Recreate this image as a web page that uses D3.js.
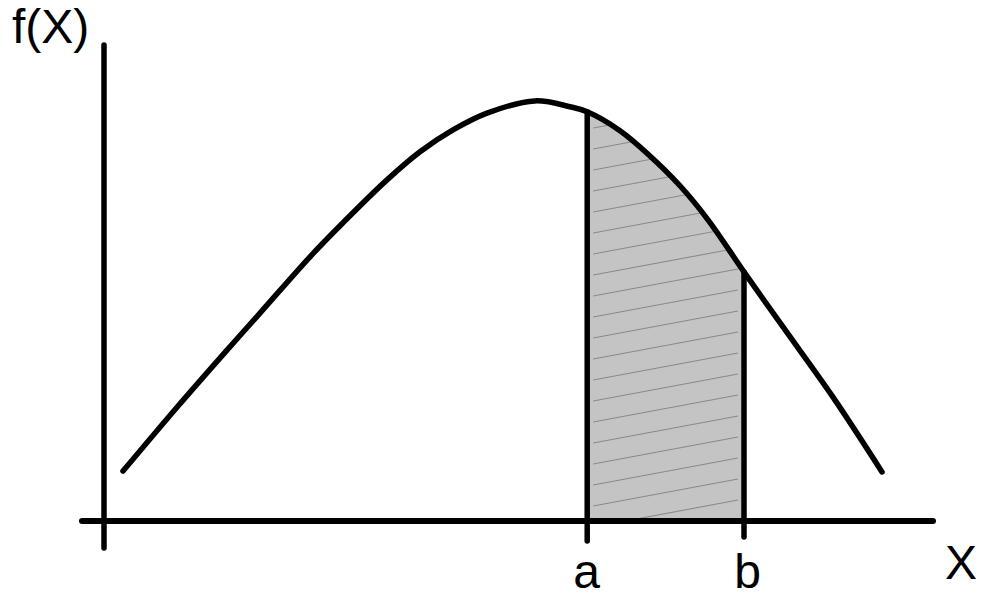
<!DOCTYPE html>
<html>
<head>
<meta charset="utf-8">
<script src="https://cdn.jsdelivr.net/npm/d3@7"></script>
<style>
  html, body { margin: 0; padding: 0; background: #fff; }
  svg { display: block; }
  text { font-family: "Liberation Sans", Arial, sans-serif; fill: #000; }
</style>
</head>
<body>
<script>
// ---- data ----
const curveX = [2.375, 9.125, 15.375, 19.5, 25.75, 29.875, 35.375, 39.5, 43.625, 47.875, 53.875, 58.25, 60.4, 64.5, 68.25, 72.0, 75.5, 80.0, 84.875, 91.125, 97.25];
const curveY = [0.119, 0.271, 0.407, 0.495, 0.629, 0.710, 0.812, 0.879, 0.931, 0.971, 1.0, 0.986, 0.974, 0.929, 0.869, 0.798, 0.717, 0.593, 0.462, 0.295, 0.117];
const boundNames = ["a", "b"];
const boundValues = [60.4, 80.0];
const xDomain = [-2.75, 103.625];
const yDomain = [-0.064, 1.133];
const yLabel = "f(X)";
const xLabel = "X";

// ---- layout ----
const W = 981, H = 595;
const x = d3.scaleLinear().domain(xDomain).range([82, 933]);
const y = d3.scaleLinear().domain(yDomain).range([548, 45]);

const svg = d3.select("body").append("svg").attr("width", W).attr("height", H);
const pts = curveX.map((d, i) => [d, curveY[i]]);
const curveType = d3.curveCatmullRom.alpha(0.5);

const defs = svg.append("defs");
defs.append("clipPath").attr("id", "band")
  .append("rect")
  .attr("x", x(boundValues[0])).attr("y", 0)
  .attr("width", x(boundValues[1]) - x(boundValues[0])).attr("height", y(0));

const area = d3.area().x(d => x(d[0])).y0(y(0)).y1(d => y(d[1])).curve(curveType);
const line = d3.line().x(d => x(d[0])).y(d => y(d[1])).curve(curveType);

defs.append("clipPath").attr("id", "areaClip")
  .append("path").attr("d", area(pts));

// shaded region
const g = svg.append("g").attr("clip-path", "url(#band)");
g.append("path").attr("d", area(pts)).attr("fill", "#c4c4c4");

// hatch lines
const xa = x(boundValues[0]), xb = x(boundValues[1]);
const hg = g.append("g").attr("clip-path", "url(#areaClip)");
const slope = -0.186;
const hatchStarts = d3.range(128, 540, 21);
hg.selectAll("line.hatch").data(hatchStarts).join("line")
  .attr("x1", xa + 6).attr("y1", d => d)
  .attr("x2", xb - 6).attr("y2", d => d + slope * (xb - xa - 12))
  .attr("stroke", "#8a8a8a").attr("stroke-width", 1.1);

// curve
svg.append("path").attr("d", line(pts))
  .attr("fill", "none").attr("stroke", "#000").attr("stroke-width", 5.5)
  .attr("stroke-linecap", "round").attr("stroke-linejoin", "round");

// axes
svg.append("line")
  .attr("x1", x(xDomain[0])).attr("x2", x(xDomain[1]))
  .attr("y1", y(0)).attr("y2", y(0))
  .attr("stroke", "#000").attr("stroke-width", 6).attr("stroke-linecap", "round");
svg.append("line")
  .attr("x1", x(0)).attr("x2", x(0))
  .attr("y1", y(yDomain[0])).attr("y2", y(yDomain[1]))
  .attr("stroke", "#000").attr("stroke-width", 5.5).attr("stroke-linecap", "round");

// bound lines a, b
const boundTop = boundValues.map(v => curveY[curveX.indexOf(v)]);
svg.selectAll("line.bound").data(boundValues).join("line")
  .attr("x1", d => x(d)).attr("x2", d => x(d))
  .attr("y1", (d, i) => y(boundTop[i]))
  .attr("y2", (d, i) => i === 0 ? 541 : 537)
  .attr("stroke", "#000").attr("stroke-width", 5.5).attr("stroke-linecap", "round");

// labels
svg.selectAll("text.bound").data(boundValues).join("text")
  .attr("x", (d, i) => x(d) + (i === 0 ? -0.5 : 3.5))
  .attr("y", 588)
  .attr("text-anchor", "middle")
  .attr("font-size", 48)
  .text((d, i) => boundNames[i]);

svg.append("text").attr("x", 12).attr("y", 43).attr("font-size", 48).text(yLabel);
svg.append("text").attr("x", 945).attr("y", 579).attr("font-size", 48).text(xLabel);
</script>
</body>
</html>
